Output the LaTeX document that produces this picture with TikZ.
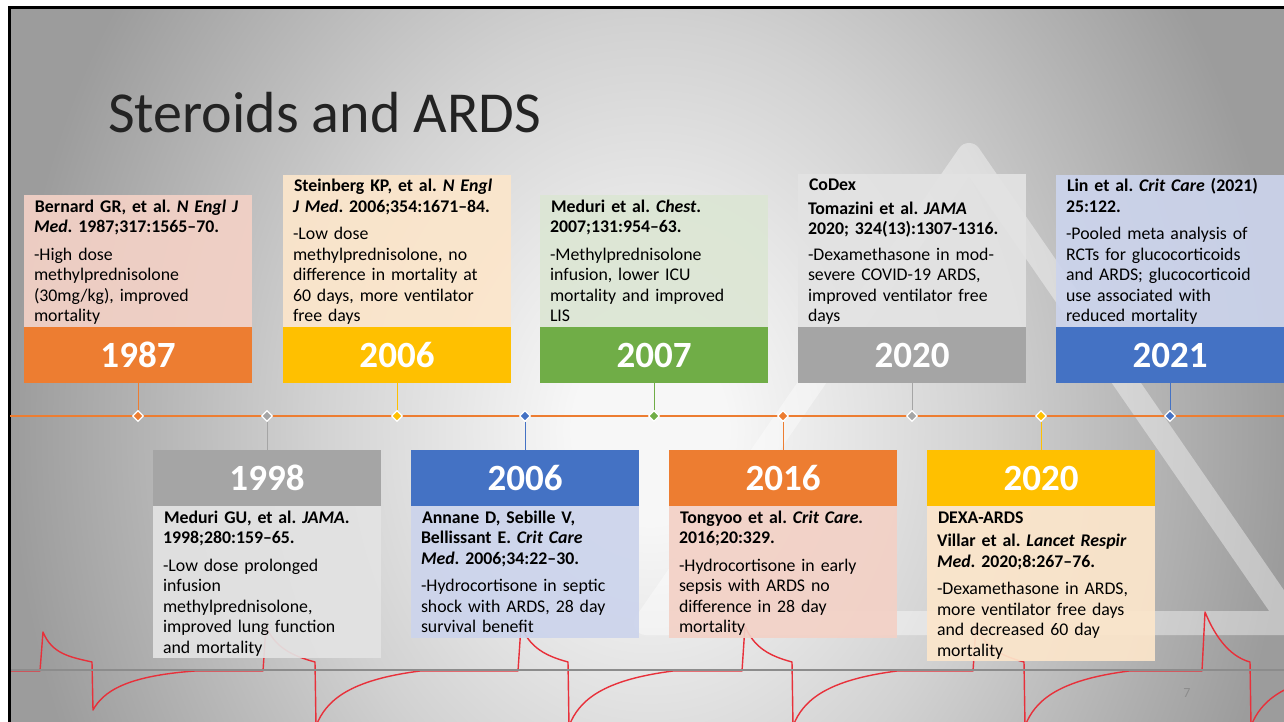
\documentclass[tikz,border=0pt]{standalone}
\usepackage{fontspec}
\setmainfont{Carlito}
\usetikzlibrary{positioning,shapes.geometric}
\frenchspacing

\definecolor{orng}{HTML}{ED7D31}
\definecolor{yell}{HTML}{FFC000}
\definecolor{grn}{HTML}{70AD47}
\definecolor{gry}{HTML}{A5A5A5}
\definecolor{blu}{HTML}{4472C4}
\definecolor{orngbox}{HTML}{F3D1C6}
\definecolor{yellbox}{HTML}{FCE6CB}
\definecolor{grnbox}{HTML}{DCE6D4}
\definecolor{grybox}{HTML}{E3E3E3}
\definecolor{blubox}{HTML}{CCD4EC}
\definecolor{bgin}{HTML}{F7F7F7}
\definecolor{bgmid}{HTML}{D2D2D2}
\definecolor{bgout}{HTML}{9C9C9C}
\definecolor{ecgred}{HTML}{E8303A}
\definecolor{titlegray}{HTML}{232323}

\pgfdeclareradialshading{slidebg}{\pgfpoint{0bp}{0bp}}{color(0bp)=(bgin); color(3bp)=(bgin); color(13bp)=(bgmid); color(25bp)=(bgout); color(50bp)=(bgout)}

\begin{document}
\begin{tikzpicture}[x=1pt,y=-1pt,
  year/.style={minimum width=228pt,minimum height=56pt,inner sep=0pt,text=white,font=\bfseries\fontsize{37}{40}\selectfont},
  info/.style={text width=208pt,inner xsep=10pt,inner ysep=0pt,align=left,fill opacity=.92,text opacity=1,
    font=\fontsize{17.8}{20.5}\selectfont,execute at begin node={\hspace*{1pt}\rule{0pt}{17pt}},execute at end node={\rule[-5pt]{0pt}{5pt}}},
  evt/.style={diamond,draw=white,line width=1.2pt,inner sep=0pt,minimum size=11pt},
  link/.style={line width=1pt},
  ecg/.style={ecgred,line width=1.4pt,line join=round}]
  \useasboundingbox (0,0) rectangle (1284,722);
  \fill[white] (0,0) rectangle (1284,722);
  \begin{scope}
    \clip (10,8) rectangle (1284,722);
    \shade[shading=slidebg] (10,-345) rectangle (1290,1205);
    \draw[white,opacity=.4,line width=24pt,line join=round] (646,623) -- (969,155) -- (1292,623) -- cycle;
    \draw[ecg] (10,671) -- (40,671) -- (43,632)
      .. controls (52,654) and (70,657) .. (92,662) -- (93,710)
      .. controls (103,692) and (125,676) .. (195,671) -- (263,671) -- (266,626)
      .. controls (275,648) and (293,656) .. (315,662) -- (316,726)
      .. controls (326,700) and (350,680) .. (420,671) -- (518,671) -- (521,626)
      .. controls (530,648) and (546,656) .. (568,662) -- (569,726)
      .. controls (579,700) and (603,680) .. (673,671) -- (742,671) -- (745,626)
      .. controls (754,648) and (770,656) .. (792,662) -- (793,726)
      .. controls (803,700) and (827,680) .. (897,671) -- (973,671) -- (976,626)
      .. controls (985,648) and (1002,656) .. (1024,662) -- (1025,726)
      .. controls (1035,700) and (1059,680) .. (1129,671) -- (1202,671) -- (1205,612)
      .. controls (1214,634) and (1228,656) .. (1250,662) -- (1251,726)
      .. controls (1261,700) and (1285,680) .. (1355,671);
    \draw[black!45,line width=1.8pt] (10,670) -- (1290,670);
  \end{scope}
  \draw[line width=3pt] (9,722) -- (9,7.5) -- (1284,7.5);

  \node[anchor=base west,inner sep=0pt,text=titlegray,font=\fontsize{58}{60}\selectfont] (title) at (108,133) {Steroids and ARDS};
  \node[text=black!45,font=\fontsize{14}{16}\selectfont] (pg) at (1187,693) {7};

  \coordinate (tl0) at (10,416);
  \coordinate (tl1) at (1284,416);
  \draw[orng,line width=1.5pt] (tl0) -- (tl1);

  \node[year,fill=orng] (y1987) at (138,355) {1987};
  \node[year,fill=yell] (y2006) at (397,355) {2006};
  \node[year,fill=grn] (y2007) at (654,355) {2007};
  \node[year,fill=gry] (y2020) at (912,355) {2020};
  \node[year,fill=blu] (y2021) at (1170,355) {2021};
  \node[year,fill=gry] (y1998) at (267,478) {1998};
  \node[year,fill=blu] (y2006b) at (525,478) {2006};
  \node[year,fill=orng] (y2016) at (783,478) {2016};
  \node[year,fill=yell] (y2020b) at (1041,478) {2020};

  \node[info,fill=orngbox,above=0pt of y1987] (t1987) {\textbf{Bernard GR, et al. \textit{N Engl J}\\ \textit{Med}. 1987;317:1565--70.}\\[7pt]
    -High dose\\ methylprednisolone\\ (30mg/kg), improved\\ mortality};
  \node[info,fill=yellbox,above=0pt of y2006] (t2006) {\textbf{Steinberg KP, et al. \textit{N Engl}\\ \textit{J Med}. 2006;354:1671--84.}\\[7pt]
    -Low dose\\ methylprednisolone, no\\ difference in mortality at\\ 60 days, more ventilator\\ free days};
  \node[info,fill=grnbox,above=0pt of y2007] (t2007) {\textbf{Meduri et al. \textit{Chest}.\\ 2007;131:954--63.}\\[7pt]
    -Methylprednisolone\\ infusion, lower ICU\\ mortality and improved\\ LIS};
  \node[info,fill=grybox,above=0pt of y2020] (t2020) {\textbf{CoDex}\\[3pt] \textbf{Tomazini et al. \textit{JAMA}\\ 2020; 324(13):1307-1316.}\\[5pt]
    -Dexamethasone in mod-\\ severe COVID-19 ARDS,\\ improved ventilator free\\ days};
  \node[info,fill=blubox,above=0pt of y2021] (t2021) {\textbf{Lin et al. \textit{Crit Care} (2021)\\ 25:122.}\\[7pt]
    -Pooled meta analysis of\\ RCTs for glucocorticoids\\ and ARDS; glucocorticoid\\ use associated with\\ reduced mortality};
  \node[info,fill=grybox,below=0pt of y1998] (t1998) {\textbf{Meduri GU, et al. \textit{JAMA}.\\ 1998;280:159--65.}\\[7pt]
    -Low dose prolonged\\ infusion\\ methylprednisolone,\\ improved lung function\\ and mortality};
  \node[info,fill=blubox,below=0pt of y2006b] (t2006b) {\textbf{Annane D, Sebille V,\\ Bellissant E. \textit{Crit Care}\\ \textit{Med}. 2006;34:22--30.}\\[7pt]
    -Hydrocortisone in septic\\ shock with ARDS, 28 day\\ survival benefit};
  \node[info,fill=orngbox,below=0pt of y2016] (t2016) {\textbf{Tongyoo et al. \textit{Crit Care.}\\ 2016;20:329.}\\[7pt]
    -Hydrocortisone in early\\ sepsis with ARDS no\\ difference in 28 day\\ mortality};
  \node[info,fill=yellbox,below=0pt of y2020b] (t2020b) {\textbf{DEXA-ARDS}\\[3pt] \textbf{Villar et al. \textit{Lancet Respir}\\ \textit{Med}. 2020;8:267--76.}\\[7pt]
    -Dexamethasone in ARDS,\\ more ventilator free days\\ and decreased 60 day\\ mortality};

  \node[evt,fill=orng] (d1987) at (138,416) {};
  \node[evt,fill=gry] (d1998) at (267,416) {};
  \node[evt,fill=yell] (d2006) at (397,416) {};
  \node[evt,fill=blu] (d2006b) at (525,416) {};
  \node[evt,fill=grn] (d2007) at (654,416) {};
  \node[evt,fill=orng] (d2016) at (783,416) {};
  \node[evt,fill=gry] (d2020) at (912,416) {};
  \node[evt,fill=yell] (d2020b) at (1041,416) {};
  \node[evt,fill=blu] (d2021) at (1170,416) {};

  \draw[link,orng] (y1987) -- (d1987);
  \draw[link,yell] (y2006) -- (d2006);
  \draw[link,grn] (y2007) -- (d2007);
  \draw[link,gry] (y2020) -- (d2020);
  \draw[link,blu] (y2021) -- (d2021);
  \draw[link,gry] (d1998) -- (y1998);
  \draw[link,blu] (d2006b) -- (y2006b);
  \draw[link,orng] (d2016) -- (y2016);
  \draw[link,yell] (d2020b) -- (y2020b);
\end{tikzpicture}
\end{document}
